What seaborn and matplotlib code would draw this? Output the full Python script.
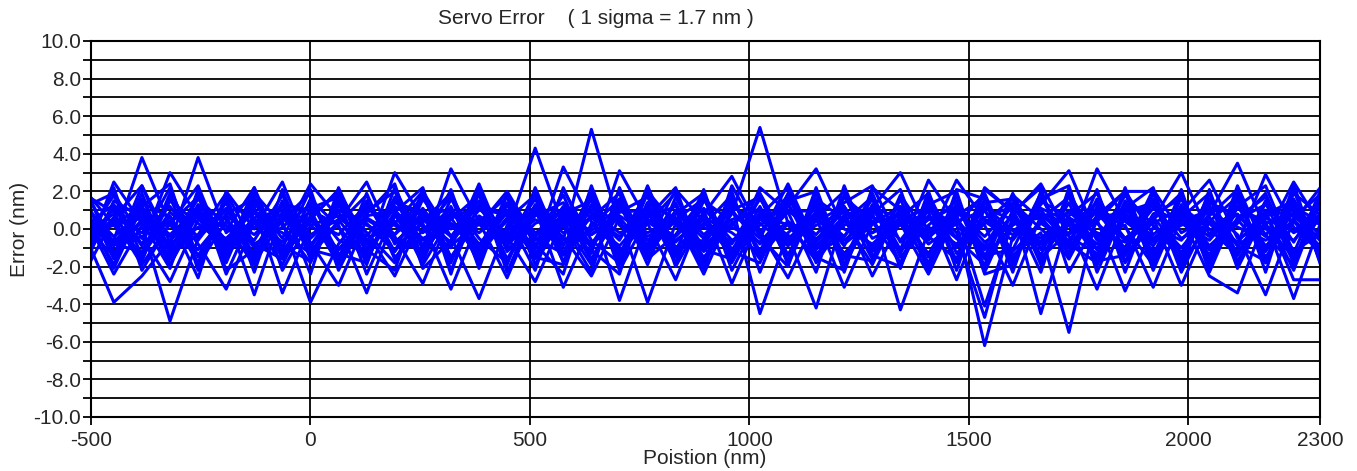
import numpy as np
import pandas as pd
import matplotlib
matplotlib.use("Agg")
import matplotlib.pyplot as plt
import seaborn as sns
from matplotlib.ticker import MultipleLocator, FormatStrFormatter

# positions (nm) where each scan was sampled
position = [-512, -448, -384, -320, -256, -192, -128, -64, 0, 64,
            128, 192, 256, 320, 384, 448, 512, 576, 640, 704,
            768, 832, 896, 960, 1024, 1088, 1152, 1216, 1280, 1344,
            1408, 1472, 1536, 1600, 1664, 1728, 1792, 1856, 1920, 1984,
            2048, 2112, 2176, 2240, 2304]

# servo error (nm) for each scan
scan_a = [0.4, -0.6, 3.8, 0.2, -1.1, 0.7, -0.3, 1.2, -0.5, 0.9,
          -1.0, 0.3, 2.0, -0.4, 0.6, -0.2, 4.3, 0.1, -0.9, 1.1,
          -0.6, 0.4, -1.2, 0.8, 5.4, 0.3, -0.7, 1.0, -0.2, 0.5,
          -1.3, 0.9, -0.4, 1.2, -0.8, 0.2, 1.4, -0.5, 0.6, -1.0,
          0.8, 3.5, 0.0, -0.6, 0.9]
scan_b = [0.9, -1.2, 0.5, -0.8, 3.8, -0.2, 1.0, -1.1, 0.4, -0.3,
          1.3, -0.7, 0.6, 1.1, -1.4, 0.5, 1.8, -0.6, 5.3, 0.2,
          -1.0, 0.9, 0.1, -0.8, 1.6, -0.5, 0.7, -1.3, 0.3, 1.2,
          -0.4, 0.6, -1.6, 0.2, 1.0, -0.9, 3.2, 0.4, -0.7, 0.8,
          -1.1, 0.5, 1.3, -0.2, 0.6]
scan_c = [-0.7, 1.1, -0.9, 3.0, 0.6, -1.4, 0.3, 0.8, -1.0, 1.2,
          0.2, -0.5, -1.2, 3.2, 0.4, -0.9, 0.7, 1.4, -0.3, 0.9,
          1.0, -1.5, 0.6, -0.2, -1.3, 1.2, 3.2, 0.0, -0.8, 0.5,
          1.1, -1.0, 0.4, -0.6, 1.3, 3.1, -0.4, 0.9, 1.2, -0.5,
          0.3, -1.2, 0.7, 1.0, -0.4]
scan_d = [2.0, 0.2, -1.3, 0.9, -0.4, 1.1, -0.8, 0.1, 1.3, -0.6,
          -1.2, 3.0, 0.5, -0.7, 1.0, 0.8, -1.1, 3.3, 0.4, -1.2,
          0.6, 1.2, -0.3, 0.9, -0.5, 2.4, -0.9, 0.7, 1.1, 3.0,
          -0.2, 0.4, 1.0, -1.2, 0.3, -0.6, 1.1, -1.4, 0.5, 3.0,
          -0.3, 1.2, -0.9, 0.4, 2.3]
scan_e = [-1.5, 2.5, 0.3, -0.4, 1.2, 0.5, -1.6, 0.9, 0.2, -1.1,
          0.7, 1.0, -0.6, 0.3, -0.9, 1.4, -0.2, 0.6, -1.3, 3.1,
          0.4, -0.7, 0.8, 2.8, -0.1, -2.6, 0.6, 2.0, -0.5, 0.2,
          0.9, -2.7, 1.1, 0.5, -0.7, 1.0, 0.3, -1.0, 2.1, -0.2,
          0.6, -0.8, 2.9, 0.1, -1.3]
scan_f = [0.3, -0.9, 1.4, 0.6, -2.6, 2.0, 0.0, 2.5, -1.2, 0.4,
          2.5, -0.8, 0.9, -1.5, 0.7, -0.3, 1.2, -1.7, 0.8, -0.6,
          2.0, 0.2, -1.0, 0.3, 1.1, -0.7, 0.9, -0.4, 1.6, -1.1,
          2.6, 0.4, -0.9, 1.4, 0.0, -1.2, 0.7, 2.0, -0.3, 0.9,
          2.6, -0.5, 0.2, -1.5, 0.8]
scan_g = [-0.2, 0.8, -1.6, 1.5, 0.3, -0.9, 1.4, -0.5, 2.4, 0.6,
          -0.4, 1.6, 0.1, -1.0, 2.4, -1.2, 0.3, 0.9, -0.8, 1.3,
          -1.3, 0.5, 1.6, -1.1, 0.8, 0.2, -1.5, 0.6, -0.9, 1.0,
          -0.6, 2.6, 0.5, -0.3, 1.1, 0.4, -1.1, 2.0, 2.0, -1.5,
          1.4, 0.7, -0.4, 2.5, 0.1]
scan_h = [1.1, -0.4, 0.7, -1.5, 1.3, -0.1, 2.2, -1.3, 0.6, 2.0,
          -0.6, 0.4, -1.4, 0.9, 0.2, 2.0, -0.5, -1.3, 1.2, 0.3,
          -0.8, 2.1, 0.4, -1.4, 0.6, 1.0, -0.3, 1.4, 2.3, -0.7,
          0.5, 1.2, -1.1, 0.8, 2.4, -0.4, -1.3, 0.6, -0.9, 1.2,
          0.0, -1.4, 1.0, 0.7, -0.6]
scan_i = [-0.4, -3.9, -2.5, -0.6, 0.9, -0.7, 0.5, -0.2, -1.3, 1.0,
          0.3, -1.2, 0.8, -0.4, -3.7, 0.2, -0.9, 1.2, -0.3, 0.6,
          -1.1, 0.9, -0.5, 1.3, -4.5, -0.2, 1.1, -0.8, 0.4, -1.2,
          0.7, -0.5, 1.0, -1.4, -0.2, -5.5, 0.8, -0.6, 0.3, 1.1,
          -0.9, 0.5, -1.2, 0.9, 0.2]
scan_j = [0.6, -2.4, 0.2, -4.9, -0.5, 1.0, -1.0, 0.7, -0.3, 0.5,
          -1.5, 0.9, -0.2, 1.1, -0.8, 0.4, -1.3, 0.2, 1.0, -3.8,
          0.5, -0.4, 1.1, -0.6, 0.2, 1.3, -1.1, 0.5, -0.2, 0.9,
          -0.8, 0.3, -6.2, -0.4, 1.0, -0.9, 0.6, 0.9, -1.2, 0.4,
          1.0, -0.3, -3.5, 0.5, -1.0]
scan_k = [-1.0, 0.4, 1.0, -1.2, 0.1, -0.5, 0.9, 0.4, -3.9, -0.8,
          1.1, 0.2, -0.9, 0.6, 1.2, -0.7, 0.5, -0.4, -2.5, 0.6,
          -3.9, 0.3, -0.9, 0.5, 1.0, -0.6, 0.4, 1.2, -1.1, 0.7,
          0.1, -0.8, 0.6, 1.2, -4.5, 0.6, -0.2, -0.7, 1.1, 0.3,
          -0.6, 1.1, 0.4, -3.7, 0.5]
scan_l = [0.2, 1.3, -0.8, 0.4, -1.4, 0.8, -3.5, 0.9, 0.5, -1.1,
          0.6, -0.3, 1.1, -0.9, 0.4, -2.6, 0.9, -0.2, 0.6, -0.4,
          1.2, -1.0, 0.3, -0.7, 0.5, -0.3, -4.2, 0.8, 1.0, -0.6,
          1.3, -0.2, -4.7, 0.7, -1.0, 0.4, -0.8, 1.2, -0.5, 0.7,
          -2.5, -3.4, 0.6, -0.1, 1.2]
scan_m = [-0.9, 0.6, -0.2, 1.2, -0.8, -3.2, 0.4, -0.7, 1.0, 0.2,
          -3.4, 0.7, -0.5, 0.2, -1.1, 0.9, -0.4, 1.1, -0.9, 0.7,
          -0.2, 0.6, -2.4, 1.0, -0.8, 0.4, -0.5, 0.2, 0.9, -4.3,
          -0.1, 1.0, -0.7, 0.3, 0.6, -1.0, 0.5, -3.3, 0.1, -0.6,
          1.1, -0.9, 0.3, 0.8, -0.7]
scan_n = [1.3, -0.7, 0.9, -0.3, 1.1, -0.6, 1.2, -3.4, 0.2, 0.7,
          -0.8, 1.2, 0.3, -3.2, 0.5, -0.5, 1.1, -3.1, 0.3, -0.9,
          0.8, -0.6, 0.5, 0.1, -0.7, 0.9, 1.0, -0.6, 0.6, 0.3,
          -2.4, 0.8, -4.1, 0.4, -0.5, 0.9, -0.3, 0.2, -3.1, 0.6,
          -0.4, 0.8, -1.0, 1.2, 0.3]
scan_o = [-0.3, 0.2, 1.2, -0.9, 0.8, -1.1, 0.6, 1.0, -0.7, -3.0,
          0.5, -0.4, -2.9, 0.8, -0.2, 1.0, -0.6, 0.7, -0.1, 1.2,
          -0.4, 0.5, -0.8, 1.2, 0.3, -0.9, 0.6, -3.1, 0.3, 0.8,
          -0.5, 1.1, 0.2, -3.0, 0.7, -0.3, 0.9, -0.5, 0.6, -3.0,
          0.4, -0.7, 0.9, -2.7, -2.7]
scan_p = [0.7, -0.8, -0.4, -2.8, 0.5, 0.2, -1.3, 0.6, -0.9, 1.3,
          -0.2, -2.5, 0.7, 0.0, 1.1, -0.4, -2.8, 0.5, 0.9, -0.2,
          0.3, -2.7, 1.0, -2.9, 0.6, -0.8, 0.2, 0.9, -2.5, 0.4,
          0.6, -0.9, 1.2, -0.1, 0.8, 0.3, -3.2, 0.7, -0.6, 0.2,
          0.9, 0.1, -0.6, 0.4, -1.2]
scan_q = [1.8, 0.9, -1.7, 1.9, -0.6, 1.4, -1.8, 0.5, 1.9, -1.6,
          1.2, -0.3, 1.8, -1.5, 0.4, 1.7, -1.9, 0.8, 1.5, -1.2,
          0.3, 1.9, -1.7, 1.4, -0.2, 1.8, -1.3, -0.4, 1.6, -1.9,
          1.1, 0.2, 1.9, -1.6, 0.5, 1.7, -1.1, 1.3, -1.8, 0.6,
          1.9, -1.4, 1.5, -0.7, 1.8]
scan_r = [-1.8, 1.5, 0.6, -1.6, 1.8, -0.9, 0.4, -1.9, 1.1, 1.7,
          -1.3, 0.8, -1.7, 1.6, -0.5, -1.8, 1.3, -0.8, 0.6, 1.9,
          -1.6, -0.3, 1.7, -1.8, 0.9, -1.4, 1.6, 0.5, -1.9, 1.2,
          -1.5, 1.8, -2.3, 1.0, -1.7, 0.7, 1.9, -1.2, 1.5, -1.9,
          0.4, 1.7, -1.8, 1.3, -1.6]
scan_s = [0.0, -1.4, 2.3, -0.7, 1.6, 0.2, -1.9, 1.5, -1.4, 0.3,
          1.8, -1.6, 0.4, 1.9, -1.2, 0.6, -1.5, 2.1, -0.6, -1.8,
          1.4, 0.6, -1.5, 0.2, 1.9, -0.8, 1.3, -1.9, 1.1, 0.6,
          1.9, -1.3, 0.3, 1.7, -1.5, -0.2, 1.4, -1.7, 0.8, 1.6,
          -1.1, 0.3, 1.9, -1.6, 0.9]
scan_t = [1.2, 1.9, -0.5, 2.2, -1.5, 0.8, 1.6, -1.6, 0.7, -1.9,
          0.9, 2.0, -1.1, 0.5, 1.8, -1.6, 0.9, -0.9, 1.9, -1.4,
          1.0, -1.8, 1.5, 0.4, -1.6, 1.7, -0.6, 1.2, -1.6, 1.8,
          -0.4, -1.6, 2.2, 0.9, -1.4, 1.9, -0.6, 1.8, 0.2, -1.6,
          1.6, -0.9, -1.7, 1.9, 0.7]
scan_u = [-1.2, 0.5, -1.9, 0.3, 1.7, -1.6, 1.9, 0.2, -1.8, 1.4,
          -0.2, -1.8, 1.6, -0.4, 1.5, -1.0, -0.4, 1.8, -1.6, 0.9,
          1.7, -1.3, 0.2, 1.8, -1.5, 0.3, -1.7, 1.7, 0.4, -1.8,
          1.6, -0.5, -1.9, 1.8, 0.5, -1.6, 1.2, 0.1, -1.9, 1.7,
          -1.6, 1.8, -0.3, -1.9, 1.6]
scan_v = [0.8, -1.9, 1.6, -1.3, -0.3, 1.9, -0.8, -1.6, 1.6, 0.1,
          -1.7, 1.4, 0.9, -1.8, 1.9, -0.6, 1.6, -1.4, 0.1, 1.6,
          -0.9, 1.4, -1.9, 1.0, 1.7, -1.4, 0.9, -0.9, 1.9, -1.5,
          0.2, 1.5, -1.4, -1.1, 1.9, -1.5, 1.6, -1.8, 0.5, 1.9,
          -1.8, 0.6, 1.7, -1.2, -0.2]
scan_w = [-1.6, 1.2, 0.9, -1.9, 0.8, -1.4, 1.5, -0.9, -1.7, 1.9,
          -0.7, 1.1, -1.9, 0.6, -1.6, 1.9, -0.9, 0.4, -1.9, 1.6,
          -1.5, 0.8, 1.9, -1.2, -1.8, 1.4, -1.6, 1.8, -1.2, 0.4,
          -1.8, 1.3, -1.5, 1.9, -1.1, 1.4, -1.9, 0.9, 1.4, -1.3,
          1.9, -1.7, 0.8, 1.5, -1.8]
scan_x = [2.0, -0.8, -1.2, 1.7, -1.9, 0.4, -0.6, 1.8, -1.1, -1.5,
          1.5, -1.2, 1.9, -1.7, 1.2, -0.9, 1.9, -1.8, 1.3, -1.7,
          1.9, -1.0, -0.6, 1.6, -1.2, 1.9, -1.8, 0.4, 1.7, -1.3,
          1.5, -1.7, 1.6, -1.8, 1.7, -0.8, -1.8, 1.5, -1.4, 1.8,
          -1.9, 1.5, -1.5, 0.6, 1.9]
scan_y = [-0.5, 1.8, -1.4, 0.7, -1.8, 1.6, -1.5, 1.3, 1.0, -1.8,
          1.9, -1.5, -0.1, 1.7, -1.8, 1.3, -1.6, 1.0, -1.7, 1.4,
          -1.9, 1.7, -1.1, -1.6, 1.8, -1.9, 1.5, -1.4, -1.7, 1.6,
          -1.9, 0.7, 1.7, -1.9, 1.5, 0.6, -1.5, 1.9, -1.6, 0.9,
          -1.4, 1.9, -1.8, 1.6, -1.4]
scan_z = [1.5, -1.6, 1.9, -1.9, 1.0, -1.8, 1.7, -1.4, 1.5, -1.3,
          -1.8, 1.7, -1.5, 1.2, -1.9, 1.8, -1.5, -1.9, 1.7, -1.9,
          1.4, -1.8, 1.9, -1.5, 1.2, -1.7, 1.9, -1.6, 1.3, -1.9,
          1.8, -1.8, 1.4, 1.6, -1.9, 1.8, -1.7, -1.4, 1.9, -1.7,
          1.3, -1.9, 1.4, -1.8, 2.1]
scan_aa = [-2.2, 0.6, 2.3, -1.2, 1.9, -2.4, 0.9, -1.0, 2.1, -2.2,
           0.8, 2.4, -2.1, -0.6, 2.0, -2.3, 1.2, 0.2, -2.3, 2.2,
           -1.4, 1.0, -2.2, 2.3, -0.4, -2.0, 2.2, -1.9, 0.8, 2.1,
           -2.1, 1.4, -2.0, 0.9, 2.2, -2.3, 0.4, 2.0, -2.2, 1.3,
           -2.0, 2.3, -1.1, 2.1, -2.0]
scan_ab = [1.0, -2.1, 1.2, 2.4, -2.2, 1.8, -2.3, 2.1, -1.6, 1.6,
           -2.4, 0.9, 2.2, -2.2, 1.3, 0.7, -2.2, 2.2, -1.1, -2.4,
           2.2, -2.0, 0.7, -1.3, 2.2, 0.9, -2.3, 2.3, -1.4, -2.0,
           1.3, 2.0, -2.4, -1.9, 1.6, 2.3, -2.3, 1.1, 2.2, -2.2,
           2.1, -2.1, 0.9, -2.2, 1.7]
scan_ac = [-1.1, 2.2, -2.2, 0.3, 2.3, -1.4, 2.2, -2.2, 0.5, 2.1,
           -1.9, 2.2, -0.9, 2.1, -2.1, 1.9, -0.8, -2.4, 2.3, -1.5,
           2.3, -1.2, 2.1, -2.2, 0.7, 2.2, -1.5, -2.2, 2.2, 1.0,
           -2.2, 2.1, 1.6, -2.3, 2.0, -1.4, 2.1, -2.3, 1.6, -2.3,
           0.7, 2.1, -2.3, 2.4, -2.1]
scan_ad = [2.1, -1.3, 0.4, -2.1, 2.1, -2.2, -1.1, 1.4, -2.4, 2.2,
           -1.1, -2.2, 2.1, -2.4, 2.2, -1.9, 2.2, -1.3, 2.1, -2.2,
           0.6, 2.2, -1.9, 2.0, -2.3, 1.5, 2.0, -2.3, 1.9, -2.1,
           2.0, -2.2, 2.1, 0.9, -2.3, 2.2, -1.9, 2.2, -1.7, 2.1,
           -2.3, 1.2, 2.3, -1.3, 2.2]

scans = [scan_a, scan_b, scan_c, scan_d, scan_e, scan_f, scan_g, scan_h,
         scan_i, scan_j, scan_k, scan_l, scan_m, scan_n, scan_o, scan_p,
         scan_q, scan_r, scan_s, scan_t, scan_u, scan_v, scan_w, scan_x,
         scan_y, scan_z, scan_aa, scan_ab, scan_ac, scan_ad]

# long form table for seaborn
rows = []
for n, s in enumerate(scans):
    assert len(s) == len(position), n
    for x, y in zip(position, s):
        rows.append((n, x, y))
df = pd.DataFrame(rows, columns=["scan", "position", "error"])

sns.set_style("white")
plt.rcParams["font.family"] = ["Liberation Sans", "DejaVu Sans"]
plt.rcParams["axes.unicode_minus"] = False
fs = 15

fig = plt.figure(figsize=(13.57, 4.71), dpi=100)
ax = fig.add_axes([91 / 1357, 1 - 417 / 471, (1320 - 91) / 1357, (417 - 41) / 471])

sns.lineplot(data=df, x="position", y="error", units="scan", estimator=None,
             sort=False, color="#0000ff", lw=2.2, ax=ax, legend=False)

ax.set_xlim(-500, 2300)
ax.set_ylim(-10, 10)
ax.set_xticks([-500, 0, 500, 1000, 1500, 2000, 2300])
ax.yaxis.set_major_locator(MultipleLocator(2))
ax.yaxis.set_minor_locator(MultipleLocator(1))
ax.yaxis.set_major_formatter(FormatStrFormatter("%.1f"))

ax.set_axisbelow(True)
ax.grid(True, which="both", axis="y", color="black", lw=1.3)
ax.grid(True, which="major", axis="x", color="black", lw=1.3)
for sp in ax.spines.values():
    sp.set_color("black")
    sp.set_linewidth(1.5)

ax.tick_params(axis="both", which="both", direction="out", length=6, width=1.3,
               color="black", labelsize=fs, pad=1, left=True, bottom=True)
ax.tick_params(axis="x", pad=4)
ax.tick_params(axis="y", which="minor", length=6)

ax.set_xlabel("")
ax.set_ylabel("")
fig.text(705 / 1357, 1 - 459 / 471, "Poistion (nm)", fontsize=fs,
         ha="center", va="center")
fig.text(20 / 1357, 1 - 229 / 471, "Error (nm)", rotation=90, fontsize=fs,
         ha="center", va="center")
fig.text(596 / 1357, 1 - 18 / 471, "Servo Error    ( 1 sigma = 1.7 nm )",
         fontsize=fs, ha="center", va="center")

fig.savefig("out.png", dpi=100)
